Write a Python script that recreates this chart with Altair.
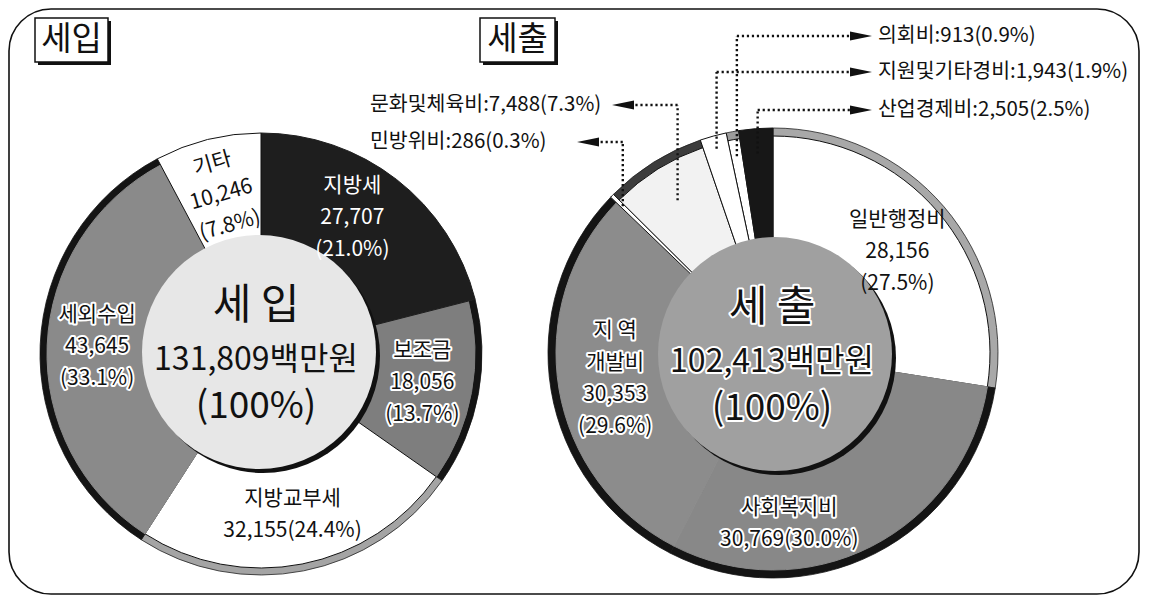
import math
import altair as alt
import pandas as pd

# ---------------- data ----------------
PANEL_TITLES = ["세입", "세출"]
CENTER_TITLES = ["세  입", "세  출"]
UNIT = "백만원"

IN_NAMES = ["지방세", "보조금", "지방교부세", "세외수입", "기타"]
IN_VALUES = [27707, 18056, 32155, 43645, 10246]
IN_PCTS = [21.0, 13.7, 24.4, 33.1, 7.8]

OUT_NAMES = ["일반행정비", "사회복지비", "지역개발비", "민방위비", "문화및체육비",
             "지원및기타경비", "의회비", "산업경제비"]
OUT_VALUES = [28156, 30769, 30353, 286, 7488, 1943, 913, 2505]
OUT_PCTS = [27.5, 30.0, 29.6, 0.3, 7.3, 1.9, 0.9, 2.5]

# ---------------- styles / layout ----------------
FONT = "Noto Sans CJK KR"
W, H = 1133, 588
OX, OY = 8, 8
LH = 32  # label line height


def px(v):
    return v - OX


def py(v):
    return v - OY


IN_STYLE = dict(
    cx=261, cy=354, r_seg=214, r_out=221, r_hole=95, label_r=164,
    hole_c=(259, 352), hole_r=117, shadow_off=(4, 4), hole_fill="#e7e7e7",
    fill=["#1e1e1e", "#7e7e7e", "#ffffff", "#8a8a8a", "#ffffff"],
    ring=["#1e1e1e", "#141414", "#a4a4a4", "#141414", "#ffffff"],
    full=[True, False, False, False, True],
    outline=[False, False, True, False, True],
    tcol=["#ffffff", "#111111", "#111111", "#111111", "#111111"],
    halo=[False, True, False, True, False],
    fmt=["stack", "stack", "inline", "stack", "stack"],
    center_halo=False,
)
OUT_STYLE = dict(
    cx=773, cy=353, r_seg=217, r_out=225, r_hole=95, label_r=160,
    hole_c=(775, 354), hole_r=117, shadow_off=(4, 4), hole_fill="#a0a0a0",
    fill=["#ffffff", "#888888", "#8c8c8c", "#ffffff", "#f2f2f2", "#ffffff", "#ffffff", "#171717"],
    ring=["#a8a8a8", "#141414", "#141414", "#ffffff", "#3c3c3c", "#ffffff", "#9c9c9c", "#171717"],
    full=[False, False, False, True, False, True, False, True],
    outline=[True, False, False, True, True, True, True, False],
    tcol=["#111111"] * 8,
    halo=[False, True, True, False, False, False, False, False],
    fmt=["stack", "inline", "split", "callout", "callout", "callout", "callout", "callout"],
    center_halo=True,
)
LABEL_NUDGE_DEG = {"사회복지비": 21.5, "지방세": -4, "일반행정비": 1.5}
LABEL_R = {"사회복지비": 172}
LABEL_ROTATE = {"기타": -16}
CENTER_LINES = [(-46, 42), (8, 32), (55, 37)]  # (dy, font size)

# callout layout: side, label y, leader radius, arrow tip x, text x
CALLOUTS = {
    "민방위비": ("left", 142, 210, 577, 370),
    "문화및체육비": ("left", 105, 180, 612, 370),
    "지원및기타경비": ("right", 72, 212, 872, 878),
    "의회비": ("right", 36, 200, 872, 878),
    "산업경제비": ("right", 110, 200, 872, 878),
}
ARROW_LEN = 22


def make_label(name, value, pct, fmt):
    if fmt == "stack":
        return f"{name}\n{value:,}\n({pct:.1f}%)"
    if fmt == "inline":
        return f"{name}\n{value:,}({pct:.1f}%)"
    if fmt == "split":
        return f"{name[0]}   {name[1]}\n{name[2:]}\n{value:,}\n({pct:.1f}%)"
    return f"{name}:{value:,}({pct:.1f}%)"


def build_frame(names, values, pcts, st):
    total = float(sum(values))
    df = pd.DataFrame({"name": names, "value": values, "pct": pcts})
    df["f1"] = df["value"].cumsum() / total
    df["f0"] = df["f1"] - df["value"] / total
    df["fill"] = st["fill"]
    df["ring"] = st["ring"]
    df["full"] = st["full"]
    df["stroke"] = ["#111111" if o else f for o, f in zip(st["outline"], st["fill"])]
    df["ringstroke"] = ["#222222" if (r not in ("#141414", "#1e1e1e", "#171717")) else r
                        for r in st["ring"]]
    df["tcol"] = st["tcol"]
    df["halo"] = st["halo"]
    df["fmt"] = st["fmt"]
    df["lab"] = [make_label(n, v, p, f) for n, v, p, f in zip(names, values, pcts, st["fmt"])]
    df["nl"] = [s.count("\n") + 1 for s in df["lab"]]
    df["fm"] = [(a + b) / 2 + LABEL_NUDGE_DEG.get(n, 0) / 360.0
                for a, b, n in zip(df["f0"], df["f1"], names)]
    df["lr"] = [LABEL_R.get(n, st["label_r"]) for n in names]
    df["ang"] = [(LABEL_ROTATE.get(n, 0)) % 360 for n in names]
    return df


THETA = alt.Scale(domain=[0, 1])


def donut(df, st, title):
    cx, cy = px(st["cx"]), py(st["cy"])
    base = alt.Chart(df).encode(
        x=alt.value(cx), y=alt.value(cy),
        theta=alt.Theta("f0:Q", scale=THETA), theta2="f1:Q",
    )
    layers = []
    # outer shadow ring
    layers.append(
        base.transform_filter("!datum.full").mark_arc(
            radius=st["r_out"], radius2=st["r_seg"] - 1, strokeWidth=0.8
        ).encode(fill=alt.Fill("ring:N", scale=None), stroke=alt.Stroke("ringstroke:N", scale=None))
    )
    # ordinary slices
    layers.append(
        base.transform_filter("!datum.full").mark_arc(
            radius=st["r_seg"], radius2=st["r_hole"], strokeWidth=1
        ).encode(fill=alt.Fill("fill:N", scale=None), stroke=alt.Stroke("stroke:N", scale=None))
    )
    # slices reaching the outer edge
    layers.append(
        base.transform_filter("datum.full").mark_arc(
            radius=st["r_out"], radius2=st["r_hole"], strokeWidth=1
        ).encode(fill=alt.Fill("fill:N", scale=None), stroke=alt.Stroke("stroke:N", scale=None))
    )
    # centre disc with shadow
    disc = pd.DataFrame({"f0": [0.0], "f1": [1.0]})
    hx, hy = st["hole_c"]
    sx, sy = st["shadow_off"]
    layers.append(
        alt.Chart(disc).mark_arc(radius=st["hole_r"], radius2=0, color="#111111").encode(
            x=alt.value(px(hx + sx)), y=alt.value(py(hy + sy)),
            theta=alt.Theta("f0:Q", scale=THETA), theta2="f1:Q")
    )
    layers.append(
        alt.Chart(disc).mark_arc(radius=st["hole_r"], radius2=0, color=st["hole_fill"]).encode(
            x=alt.value(px(hx)), y=alt.value(py(hy)),
            theta=alt.Theta("f0:Q", scale=THETA), theta2="f1:Q")
    )
    # slice labels (block centred on the anchor: shift by half the extra lines)
    lab = df[df["fmt"] != "callout"]
    tbase = alt.Chart(lab).encode(
        x=alt.value(cx), y=alt.value(cy),
        theta=alt.Theta("fm:Q", scale=THETA),
        radius=alt.Radius("lr:Q", scale=None),
        text="lab:N",
        angle=alt.Angle("ang:Q", scale=None),
    )
    for n in sorted(set(lab["nl"])):
        tprops = dict(font=FONT, fontSize=21, lineBreak="\n",
                      lineHeight=LH, align="center", baseline="middle",
                      dy=-(n - 1) * LH / 2)
        sub = tbase.transform_filter(f"datum.nl == {n}")
        layers.append(
            sub.transform_filter("datum.halo").mark_text(
                stroke="white", strokeWidth=4, strokeJoin="round", color="white", **tprops)
        )
        layers.append(sub.mark_text(**tprops).encode(color=alt.Color("tcol:N", scale=None)))
    # centre text
    total = int(sum(df["value"]))
    ctext = pd.DataFrame({
        "t": [title, f"{total:,}{UNIT}", "(100%)"],
        "yy": [py(hy + d) for d, _ in CENTER_LINES],
        "fs": [s for _, s in CENTER_LINES],
    })
    cbase = alt.Chart(ctext).encode(
        x=alt.value(px(hx - 3)),
        y=alt.Y("yy:Q", scale=None, axis=None),
        text="t:N",
        size=alt.Size("fs:Q", scale=None, legend=None),
    )
    if st["center_halo"]:
        layers.append(cbase.mark_text(font=FONT, align="center", baseline="middle",
                                      stroke="white", strokeWidth=4, strokeJoin="round",
                                      color="white"))
    layers.append(cbase.mark_text(font=FONT, align="center", baseline="middle", color="#111111"))
    return layers


left_df = build_frame(IN_NAMES, IN_VALUES, IN_PCTS, IN_STYLE)
right_df = build_frame(OUT_NAMES, OUT_VALUES, OUT_PCTS, OUT_STYLE)

# ---------------- callouts for the small slices ----------------
rows = []
for _, r in right_df[right_df["fmt"] == "callout"].iterrows():
    side, ly, lr, tip, tx = CALLOUTS[r["name"]]
    mid = (r["f0"] + r["f1"]) / 2 * 2 * math.pi
    lx = OUT_STYLE["cx"] + lr * math.sin(mid)
    ly0 = OUT_STYLE["cy"] - lr * math.cos(mid)
    sgn = 1 if side == "right" else -1
    rows.append(dict(
        lx=px(lx), ly0=py(ly0), ly=py(ly),
        hx2=px(tip - sgn * (ARROW_LEN - 2)),
        ax=px(tip - sgn * ARROW_LEN / 2), aang=0 if side == "right" else 180,
        tx=px(tx), lab=r["lab"],
    ))
call = pd.DataFrame(rows)
cb = alt.Chart(call)
dots = dict(strokeDash=[2.2, 2.8], strokeWidth=2.4, color="#111111")
call_layers = [
    cb.mark_rule(**dots).encode(
        x=alt.X("lx:Q", scale=None, axis=None),
        y=alt.Y("ly0:Q", scale=None, axis=None), y2="ly:Q"),
    cb.mark_rule(**dots).encode(
        x=alt.X("lx:Q", scale=None, axis=None), x2="hx2:Q",
        y=alt.Y("ly:Q", scale=None, axis=None)),
    cb.mark_point(shape="M-1,-0.42L1,0L-1,0.42Z", filled=True, size=ARROW_LEN ** 2,
                  color="#111111", opacity=1).encode(
        x=alt.X("ax:Q", scale=None, axis=None),
        y=alt.Y("ly:Q", scale=None, axis=None),
        angle=alt.Angle("aang:Q", scale=None)),
    cb.mark_text(font=FONT, fontSize=20.5, align="left", baseline="middle", color="#111111").encode(
        x=alt.X("tx:Q", scale=None, axis=None),
        y=alt.Y("ly:Q", scale=None, axis=None), text="lab:N"),
]

# ---------------- frame and panel title boxes ----------------
one = pd.DataFrame({"k": [0]})
frame = alt.Chart(one).mark_rect(cornerRadius=42, fillOpacity=0, stroke="#111111",
                                 strokeWidth=1.6).encode(
    x=alt.value(1), x2=alt.value(W - 2), y=alt.value(1), y2=alt.value(H - 2))

boxes = pd.DataFrame({
    "t": PANEL_TITLES,
    "x": [px(35), px(480)], "x2": [px(108), px(555)],
    "y": [py(18), py(18)], "y2": [py(62), py(62)],
})
boxes["sx"] = boxes["x"] + 3
boxes["sx2"] = boxes["x2"] + 3
boxes["sy"] = boxes["y"] + 3
boxes["sy2"] = boxes["y2"] + 3
boxes["tx"] = (boxes["x"] + boxes["x2"]) / 2
boxes["ty"] = (boxes["y"] + boxes["y2"]) / 2
bb = alt.Chart(boxes)
box_layers = [
    bb.mark_rect(color="#111111").encode(
        x=alt.X("sx:Q", scale=None, axis=None), x2="sx2:Q",
        y=alt.Y("sy:Q", scale=None, axis=None), y2="sy2:Q"),
    bb.mark_rect(fill="white", stroke="#111111", strokeWidth=1.5).encode(
        x=alt.X("x:Q", scale=None, axis=None), x2="x2:Q",
        y=alt.Y("y:Q", scale=None, axis=None), y2="y2:Q"),
    bb.mark_text(font=FONT, fontSize=33, align="center", baseline="middle",
                 color="#111111").encode(
        x=alt.X("tx:Q", scale=None, axis=None),
        y=alt.Y("ty:Q", scale=None, axis=None), text="t:N"),
]

layers = ([frame] + box_layers
          + donut(left_df, IN_STYLE, CENTER_TITLES[0])
          + donut(right_df, OUT_STYLE, CENTER_TITLES[1])
          + call_layers)

chart = alt.layer(*layers).properties(
    width=W, height=H, padding=0,
    autosize=alt.AutoSizeParams(type="none"),
    background="white",
).configure_view(strokeWidth=0)

chart.save("out.html", embed_options={"renderer": "svg", "actions": False})
